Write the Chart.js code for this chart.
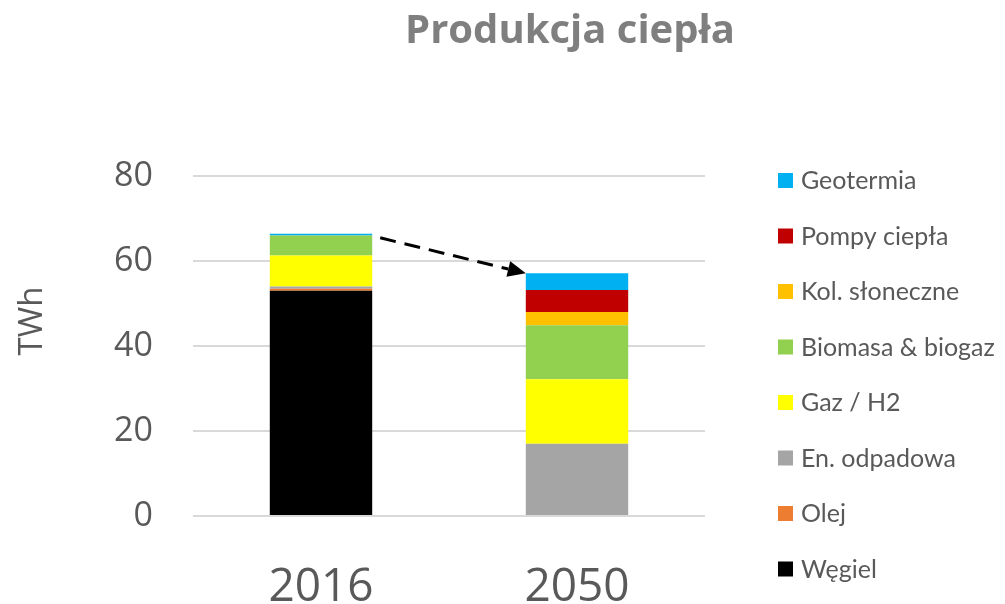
<!DOCTYPE html>
<html>
<head>
<meta charset="utf-8">
<script src="https://cdn.jsdelivr.net/npm/chart.js@4/dist/chart.umd.min.js"></script>
<style>
  html, body { margin: 0; padding: 0; background: #fff; }
  #wrap { width: 1005px; height: 604px; }
</style>
</head>
<body>
<div id="wrap"><canvas id="chart" width="1005" height="604"></canvas></div>
<script>
// data (TWh)
const years = ['2016', '2050'];
const wegiel = [53, 0];
const olej = [0.5, 0];
const odpadowa = [0.5, 17];
const gaz = [7.3, 15.2];
const biomasa = [4.7, 12.7];
const kolektory = [0, 3.1];
const pompy = [0, 5.2];
const geotermia = [0.4, 3.9];
const yTicks = [0, 20, 40, 60, 80];

const grey = '#595959';

const series = [
  {label: 'Węgiel', data: wegiel, color: '#000000'},
  {label: 'Olej', data: olej, color: '#ed7d31'},
  {label: 'En. odpadowa', data: odpadowa, color: '#a5a5a5'},
  {label: 'Gaz / H2', data: gaz, color: '#ffff00'},
  {label: 'Biomasa & biogaz', data: biomasa, color: '#92d050'},
  {label: 'Kol. słoneczne', data: kolektory, color: '#ffc000'},
  {label: 'Pompy ciepła', data: pompy, color: '#c00000'},
  {label: 'Geotermia', data: geotermia, color: '#00b0f0'},
];

// title, axis title, legend and the dashed arrow between the two bars
const extras = {
  id: 'extras',
  afterDraw(chart) {
    const ctx = chart.ctx;
    ctx.save();

    ctx.fillStyle = '#7f7f7f';
    ctx.font = 'bold 40px "Open Sans"';
    ctx.textAlign = 'center';
    ctx.textBaseline = 'middle';
    ctx.fillText('Produkcja ciepła', 570, 32);

    ctx.save();
    ctx.translate(33, 321);
    ctx.rotate(-Math.PI / 2);
    ctx.fillStyle = grey;
    ctx.font = '33px "Open Sans"';
    ctx.fillText('TWh', 0, 0);
    ctx.restore();

    // legend, top item = last dataset
    const ds = chart.data.datasets;
    ctx.font = '25px Lato';
    ctx.textAlign = 'left';
    for (let i = 0; i < ds.length; i++) {
      const d = ds[ds.length - 1 - i];
      const y = 180 + i * 55.5;
      ctx.fillStyle = d.backgroundColor;
      ctx.fillRect(778, y - 7, 15, 15);
      ctx.fillStyle = grey;
      ctx.fillText(d.label, 801, y + 1);
    }

    // arrow from top of first stack to top of second
    const top = chart.getDatasetMeta(ds.length - 1).data;
    const x0 = top[0].x + top[0].width / 2 + 8;
    const y0 = top[0].y + 4;
    const x1 = top[1].x - top[1].width / 2;
    const y1 = top[1].y;
    const ang = Math.atan2(y1 - y0, x1 - x0);
    const head = 18;
    ctx.strokeStyle = '#000';
    ctx.lineWidth = 3;
    ctx.setLineDash([16, 9]);
    ctx.beginPath();
    ctx.moveTo(x0, y0);
    ctx.lineTo(x1 - Math.cos(ang) * head, y1 - Math.sin(ang) * head);
    ctx.stroke();
    ctx.setLineDash([]);
    ctx.fillStyle = '#000';
    ctx.beginPath();
    ctx.moveTo(x1, y1);
    ctx.lineTo(x1 - head * Math.cos(ang) - 8 * Math.sin(ang), y1 - head * Math.sin(ang) + 8 * Math.cos(ang));
    ctx.lineTo(x1 - head * Math.cos(ang) + 8 * Math.sin(ang), y1 - head * Math.sin(ang) - 8 * Math.cos(ang));
    ctx.closePath();
    ctx.fill();

    ctx.restore();
  }
};

new Chart(document.getElementById('chart'), {
  type: 'bar',
  data: {
    labels: years,
    datasets: series.map(s => ({
      label: s.label,
      data: s.data,
      backgroundColor: s.color,
      borderWidth: 0,
      barPercentage: 0.4,
      categoryPercentage: 1,
    })),
  },
  options: {
    responsive: false,
    animation: false,
    devicePixelRatio: 1,
    layout: {padding: {top: 176, right: 300, left: 0, bottom: 0}},
    plugins: {
      legend: {display: false},
      title: {display: false},
      tooltip: {enabled: false},
    },
    scales: {
      x: {
        stacked: true,
        grid: {display: false, drawTicks: false},
        border: {display: false},
        ticks: {color: grey, font: {family: 'Open Sans', size: 46, lineHeight: 1}, padding: 49},
        afterFit(scale) { scale.height = 88; },
      },
      y: {
        stacked: true,
        min: 0,
        max: 80,
        afterBuildTicks(scale) { scale.ticks = yTicks.map(v => ({value: v})); },
        grid: {color: '#d9d9d9', lineWidth: 2, drawTicks: false},
        border: {display: false},
        ticks: {color: grey, font: {family: 'Open Sans', size: 34}, padding: 40},
        afterFit(scale) { scale.width = 193; },
      },
    },
  },
  plugins: [extras],
});
</script>
</body>
</html>
